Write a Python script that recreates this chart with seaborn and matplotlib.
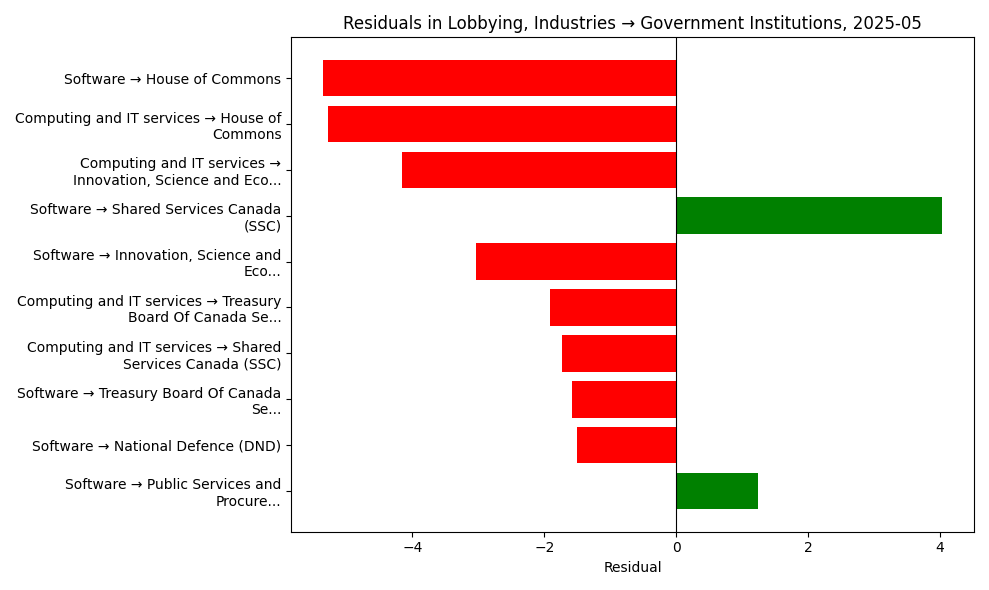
import matplotlib
matplotlib.use("Agg")
import matplotlib.pyplot as plt
import seaborn as sns
import pandas as pd

labels = [
    "Software → House of Commons",
    "Computing and IT services → House of\nCommons",
    "Computing and IT services →\nInnovation, Science and Eco...",
    "Software → Shared Services Canada\n(SSC)",
    "Software → Innovation, Science and\nEco...",
    "Computing and IT services → Treasury\nBoard Of Canada Se...",
    "Computing and IT services → Shared\nServices Canada (SSC)",
    "Software → Treasury Board Of Canada\nSe...",
    "Software → National Defence (DND)",
    "Software → Public Services and\nProcure...",
]
residuals = [-5.36, -5.28, -4.16, 4.04, -3.04, -1.91, -1.73, -1.58, -1.51, 1.24]

df = pd.DataFrame({"label": labels, "residual": residuals})
df["sign"] = ["pos" if v > 0 else "neg" for v in residuals]

fig, ax = plt.subplots(figsize=(9.89, 5.9), dpi=100)
sns.barplot(data=df, x="residual", y="label", hue="sign", orient="h",
            palette={"pos": "green", "neg": "red"}, width=0.8,
            saturation=1, legend=False, ax=ax)
ax.axvline(0, color="black", linewidth=0.8)
ax.set_xlim(-5.84, 4.52)
ax.set_ylim(len(labels) - 1 + 0.89, -0.89)
ax.set_xlabel("Residual")
ax.set_ylabel("")
ax.set_title("Residuals in Lobbying, Industries → Government Institutions, 2025-05")
plt.tight_layout()
plt.savefig("out.png")
